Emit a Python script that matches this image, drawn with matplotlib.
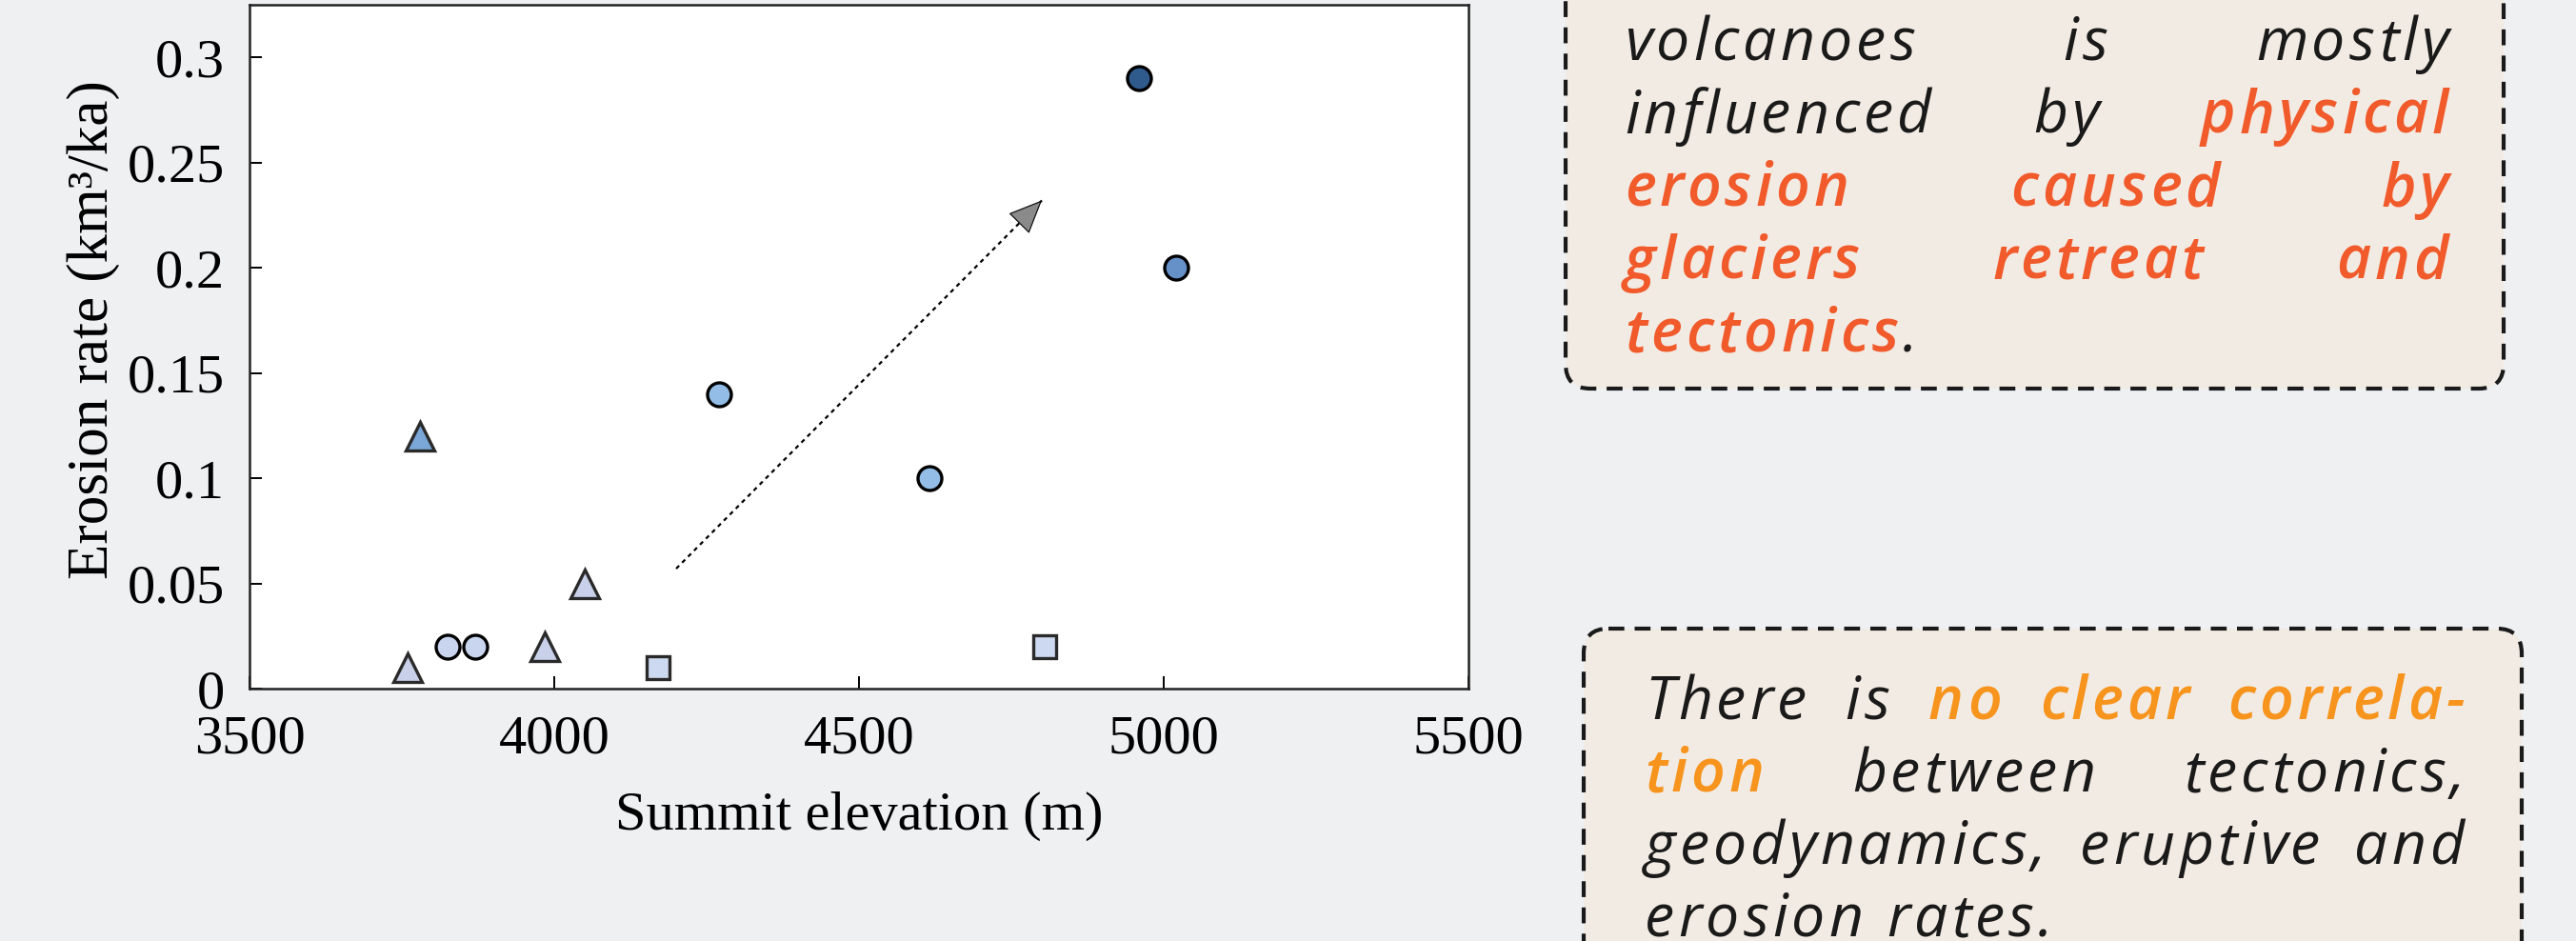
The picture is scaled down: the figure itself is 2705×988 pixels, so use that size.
import matplotlib
matplotlib.use('Agg')
import matplotlib.pyplot as plt
from matplotlib.patches import FancyBboxPatch
from matplotlib.ticker import FuncFormatter

# Erosion rate vs summit elevation, grouped by marker style
circ_dark_x = [4960]
circ_dark_y = [0.29]
circ_mid_x = [5020]
circ_mid_y = [0.20]
circ_blue_x = [4270, 4615]
circ_blue_y = [0.14, 0.10]
circ_pale_x = [3825, 3870]
circ_pale_y = [0.02, 0.02]
tri_blue_x = [3780]
tri_blue_y = [0.12]
tri_pale_x = [3760, 3985, 4050]
tri_pale_y = [0.01, 0.02, 0.05]
sq_x = [4170, 4805]
sq_y = [0.01, 0.02]

trend_x = [4200, 4800]
trend_y = [0.057, 0.232]

x_ticks = [3500, 4000, 4500, 5000, 5500]
y_ticks = [0, 0.05, 0.1, 0.15, 0.2, 0.25, 0.3]

RED = '#f15a2b'
ORANGE = '#f7941d'
INK = '#1a1a1a'

# text boxes: each line is a list of words, each word a list of (text, colour, bold)
box1_lines = [
    [[('volcanoes', INK, False)], [('is', INK, False)], [('mostly', INK, False)]],
    [[('influenced', INK, False)], [('by', INK, False)], [('physical', RED, True)]],
    [[('erosion', RED, True)], [('caused', RED, True)], [('by', RED, True)]],
    [[('glaciers', RED, True)], [('retreat', RED, True)], [('and', RED, True)]],
    [[('tectonics', RED, True), ('.', INK, False)]],
]
box2_lines = [
    [[('There', INK, False)], [('is', INK, False)], [('no', ORANGE, True)],
     [('clear', ORANGE, True)], [('correla-', ORANGE, True)]],
    [[('tion', ORANGE, True)], [('between', INK, False)], [('tectonics,', INK, False)]],
    [[('geodynamics,', INK, False)], [('eruptive', INK, False)], [('and', INK, False)]],
    [[('erosion', INK, False)], [('rates.', INK, False)]],
]

W, H = 2705, 988
fig = plt.figure(figsize=(W / 100, H / 100), dpi=100)
fig.patch.set_facecolor('#eef0f2')

# background layer in pixel coordinates for the text boxes
bg = fig.add_axes([0, 0, 1, 1])
bg.set_xlim(0, W)
bg.set_ylim(H, 0)
bg.axis('off')
bg.set_zorder(0)

for (x0, y0, x1, y1) in [(1644, -120, 2629, 408), (1663, 660, 2648, 1150)]:
    bg.add_patch(FancyBboxPatch((x0, y0), x1 - x0, y1 - y0,
                                boxstyle='round,pad=0,rounding_size=26',
                                facecolor='#f2ebe3', edgecolor=INK,
                                linewidth=3, linestyle=(0, (4, 2.6))))

renderer = fig.canvas.get_renderer()
FS = 45
EM = FS * 100 / 72
TRACK = 0.065 * EM
_cache = {}


def seg_text(x, y, s, color, bold):
    return bg.text(x, y, s, fontsize=FS, family='Open Sans', style='italic',
                   fontweight='semibold' if bold else 'normal', color=color,
                   ha='left', va='baseline')


def width_of(s, bold):
    key = (s, bold)
    if key not in _cache:
        t = seg_text(0, 0, s, INK, bold)
        _cache[key] = t.get_window_extent(renderer).width
        t.remove()
    return _cache[key]


def word_width(word):
    n = sum(len(s) for s, c, b in word)
    return sum(width_of(s, b) for s, c, b in word) + (n - 1) * TRACK


def draw_word(x, y, word):
    # letter-spaced: each glyph where it sits in the plain string, plus tracking
    k = 0
    for s, c, b in word:
        for i, ch in enumerate(s):
            xi = width_of(s[:i + 1], b) - width_of(ch, b)
            seg_text(x + xi + k * TRACK, y, ch, c, b)
            k += 1
        x += width_of(s, b)


def draw_lines(lines, left, right, base0, step):
    space = 0.26 * EM + 2 * TRACK
    for i, words in enumerate(lines):
        y = base0 + i * step
        widths = [word_width(w) for w in words]
        last = i == len(lines) - 1
        if len(words) > 1 and not last:
            gap = (right - left - sum(widths)) / (len(words) - 1)
        else:
            gap = space
        x = left
        for w, ww in zip(words, widths):
            draw_word(x, y, w)
            x += ww + gap


draw_lines(box1_lines, 1706, 2571, 63, 76.5)
draw_lines(box2_lines, 1727, 2588, 755, 76)

# scatter chart
ax = fig.add_axes([262 / W, (H - 723) / H, (1542 - 262) / W, (723 - 5) / H])
ax.set_zorder(2)
ax.set_facecolor('white')

common = dict(linestyle='none', zorder=3)
ax.plot(circ_dark_x, circ_dark_y, 'o', ms=18, mfc='#2f5b8c', mec='black', mew=2.4, **common)
ax.plot(circ_mid_x, circ_mid_y, 'o', ms=18, mfc='#6690c8', mec='black', mew=2.4, **common)
ax.plot(circ_blue_x, circ_blue_y, 'o', ms=18, mfc='#93bde6', mec='black', mew=2.4, **common)
ax.plot(circ_pale_x, circ_pale_y, 'o', ms=18, mfc='#c9d5ee', mec='black', mew=2.4, **common)
ax.plot(tri_blue_x, tri_blue_y, '^', ms=22, mfc='#7aa6d8', mec='#2a2a2a', mew=2.4, **common)
ax.plot(tri_pale_x, tri_pale_y, '^', ms=22, mfc='#c9d1ea', mec='#2a2a2a', mew=2.4, **common)
ax.plot(sq_x, sq_y, 's', ms=17, mfc='#cdd9f0', mec='#2a2a2a', mew=2.4, **common)

# dotted trend arrow
ax.plot(trend_x, trend_y, color='black', lw=1.6, ls=(0, (2, 2)), zorder=2)
hx = trend_x[1] - 0.06 * (trend_x[1] - trend_x[0])
hy = trend_y[1] - 0.06 * (trend_y[1] - trend_y[0])
ax.annotate('', xy=(trend_x[1], trend_y[1]), xytext=(hx, hy),
            arrowprops=dict(arrowstyle='-|>,head_length=1.15,head_width=0.5',
                            mutation_scale=20, facecolor='#8a8a8a',
                            edgecolor='black', lw=0.8, shrinkA=0, shrinkB=0),
            zorder=4)

ax.set_xlim(3500, 5500)
ax.set_ylim(0, 0.325)
ax.set_xticks(x_ticks)
ax.set_yticks(y_ticks)
ax.yaxis.set_major_formatter(FuncFormatter(lambda v, p: '%g' % v))

serif = 'Liberation Serif'
for lab in ax.get_xticklabels() + ax.get_yticklabels():
    lab.set_family(serif)
    lab.set_fontsize(42)
ax.tick_params(direction='in', length=9.5, width=1.4, colors='black',
               top=False, right=False)
ax.tick_params(axis='x', pad=20)
ax.tick_params(axis='y', pad=19)
for sp in ax.spines.values():
    sp.set_linewidth(1.8)
    sp.set_color('#222222')

ax.set_xlabel('Summit elevation (m)', family=serif, fontsize=42, labelpad=20)
ax.set_ylabel('Erosion rate (km³/ka)', family=serif, fontsize=44)
ax.yaxis.set_label_coords(-0.106, 0.525)

fig.savefig('out.png', dpi=100, facecolor=fig.get_facecolor())
